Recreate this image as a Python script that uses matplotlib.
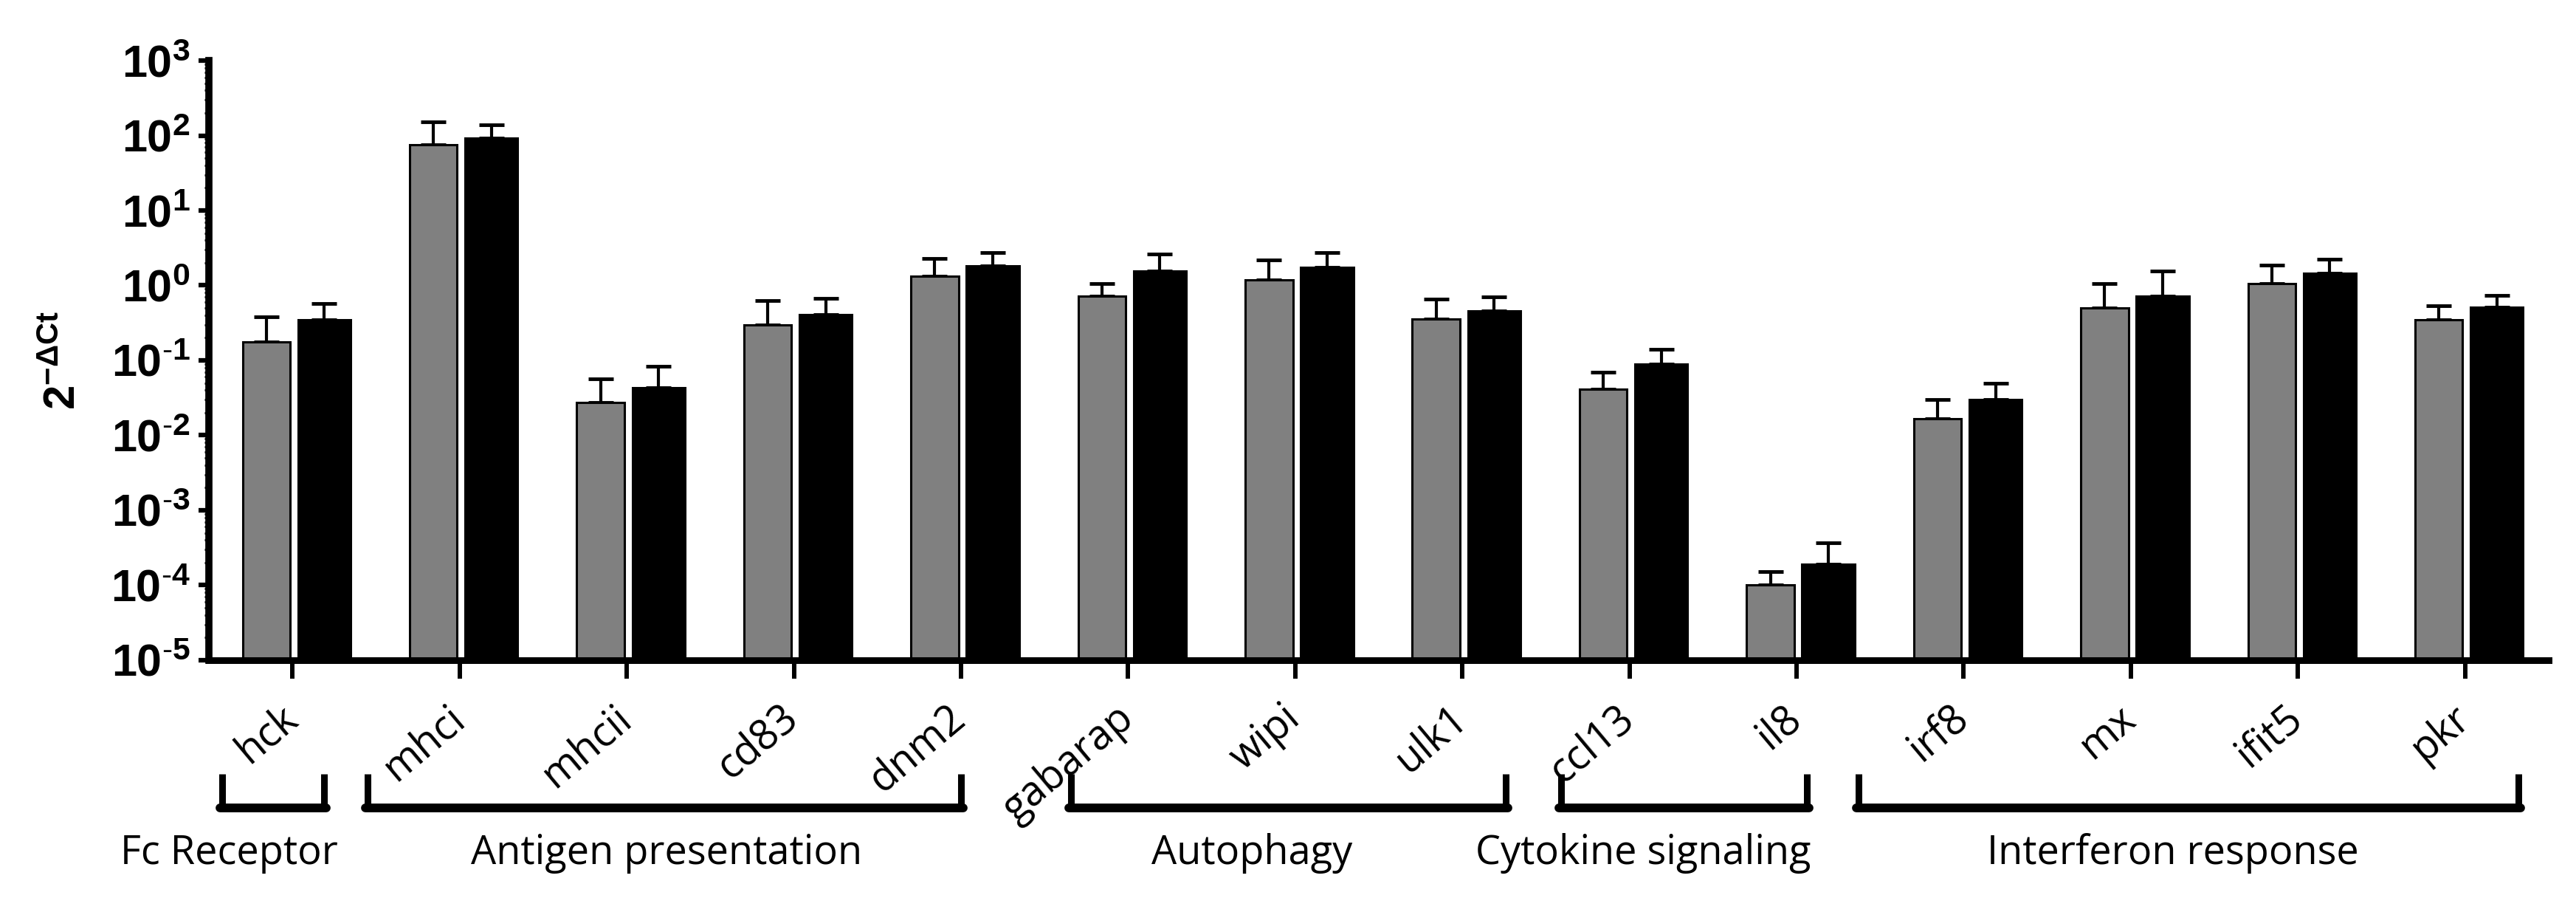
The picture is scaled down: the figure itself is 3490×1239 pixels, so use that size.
import numpy as np
import matplotlib
matplotlib.use("Agg")
import matplotlib.pyplot as plt
from matplotlib.ticker import LogLocator, NullFormatter, FixedLocator
from matplotlib.mathtext import MathTextParser
import matplotlib.transforms as mtransforms

plt.rcParams['mathtext.fontset'] = 'custom'
plt.rcParams['mathtext.rm'] = 'Liberation Sans'
plt.rcParams['mathtext.bf'] = 'Liberation Sans:bold'
plt.rcParams['font.family'] = ['Liberation Sans', 'DejaVu Sans']

genes = ['hck', 'mhci', 'mhcii', 'cd83', 'dnm2', 'gabarap', 'wipi', 'ulk1',
         'ccl13', 'il8', 'irf8', 'mx', 'ifit5', 'pkr']

# mean and top of error bar
grey_mean = [0.178, 75, 0.0275, 0.30, 1.33, 0.72, 1.19, 0.36, 0.041, 1.0e-4,
             0.0168, 0.50, 1.06, 0.345]
grey_top = [0.385, 152, 0.057, 0.63, 2.27, 1.07, 2.18, 0.66, 0.069, 1.51e-4,
            0.030, 1.05, 1.85, 0.535]
black_mean = [0.345, 92, 0.043, 0.41, 1.82, 1.55, 1.74, 0.455, 0.089, 1.9e-4,
              0.030, 0.72, 1.46, 0.51]
black_top = [0.57, 138, 0.083, 0.67, 2.75, 2.6, 2.75, 0.70, 0.141, 3.7e-4,
             0.050, 1.55, 2.26, 0.735]

group_names = ['Fc Receptor', 'Antigen presentation', 'Autophagy',
               'Cytokine signaling', 'Interferon response']
group_first = ['hck', 'mhci', 'gabarap', 'ccl13', 'irf8']
group_last = ['hck', 'dnm2', 'ulk1', 'il8', 'pkr']

ymin = 1e-5
x = np.arange(len(genes))
label_font = ['Open Sans', 'DejaVu Sans']


def power_label(k):
    # short hyphen in the exponent, like the original figure
    s = r'$\mathbf{10^{%s%d}}$' % (r'\text{-}' if k < 0 else '', abs(k))
    try:
        MathTextParser('agg').parse(s, dpi=100)
        return s
    except Exception:
        return r'$\mathbf{10^{%d}}$' % k


fig = plt.figure(figsize=(34.91, 12.39), dpi=100)
ax = fig.add_axes([0.0811, 0.2785, 0.908, 0.6553])

gm = np.array(grey_mean)
bm = np.array(black_mean)
gx = x - 0.157
bx = x + 0.19
ax.bar(gx, gm - ymin, bottom=ymin, width=0.285, color='#808080',
       edgecolor='black', linewidth=2.2, zorder=2)
ax.bar(bx, bm - ymin, bottom=ymin, width=0.315, color='black',
       edgecolor='black', linewidth=2.2, zorder=2)
ax.errorbar(gx, gm, yerr=[np.zeros_like(gm), np.array(grey_top) - gm],
            fmt='none', ecolor='black', elinewidth=3, capsize=12, capthick=3.5, zorder=1)
ax.errorbar(bx, bm, yerr=[np.zeros_like(bm), np.array(black_top) - bm],
            fmt='none', ecolor='black', elinewidth=3, capsize=12, capthick=3.5, zorder=1)

ax.set_yscale('log')
ax.set_ylim(ymin, 1e3)
ax.set_xlim(-0.5, 13.5)

exps = list(range(-5, 4))
ax.yaxis.set_major_locator(FixedLocator([10.0 ** k for k in exps]))
ax.set_yticklabels([power_label(k) for k in exps], fontsize=44)
ax.yaxis.set_minor_locator(LogLocator(base=10, subs=np.arange(2, 10)))
ax.yaxis.set_minor_formatter(NullFormatter())
ax.tick_params(axis='y', which='major', length=10, width=4.5, pad=8)
ax.tick_params(axis='y', which='minor', length=4, width=2)

ax.set_xticks(x)
ax.set_xticklabels(genes, rotation=40, ha='right', va='center',
                   rotation_mode='anchor', fontsize=40, family=label_font)
ax.tick_params(axis='x', length=18, width=4.3, pad=34)

ax.set_ylabel(r'$\mathbf{2^{-\Delta Ct}}$', fontsize=43, labelpad=26)

for s in ['top', 'right']:
    ax.spines[s].set_visible(False)
ax.spines['left'].set_linewidth(7)
ax.spines['bottom'].set_linewidth(6.5)

# group brackets under the gene labels
trans = mtransforms.blended_transform_factory(ax.transData, ax.transAxes)
y_top, y_bot, y_txt = -0.19, -0.247, -0.340
for name, a, b in zip(group_names, group_first, group_last):
    i0 = genes.index(a)
    i1 = genes.index(b)
    left, right = i0 - 0.42, i1 + 0.19
    if name == 'Antigen presentation':
        left, right = i0 - 0.55, i1 + 0.0
    if name == 'Autophagy':
        left, right = i0 - 0.34, i1 + 0.26
    if name == 'Cytokine signaling':
        left, right = i0 - 0.41, i1 + 0.06
    if name == 'Interferon response':
        left, right = i0 - 0.63, i1 + 0.32
    ax.plot([left, left], [y_top, y_bot], transform=trans, color='black',
            lw=6.5, clip_on=False, solid_capstyle='butt')
    ax.plot([right, right], [y_top, y_bot], transform=trans, color='black',
            lw=6.5, clip_on=False, solid_capstyle='butt')
    ax.plot([left - 0.013, right + 0.013], [y_bot, y_bot], transform=trans,
            color='black', lw=8.5, clip_on=False, solid_capstyle='round')

label_x = [-0.38, 2.24, 5.74, 8.08, 11.25]
for name, lx in zip(group_names, label_x):
    ax.text(lx, y_txt, name, transform=trans, ha='center', va='baseline',
            fontsize=39, family=label_font)

fig.savefig('out.png', dpi=100)
